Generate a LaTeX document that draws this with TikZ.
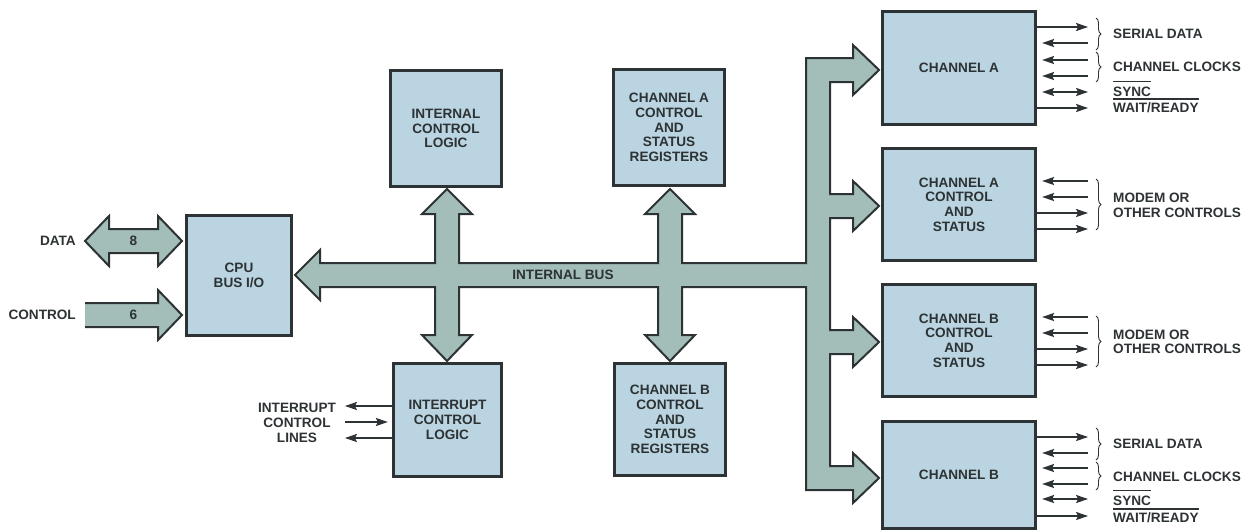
\documentclass[tikz,border=0pt]{standalone}
\usepackage{fontspec}
\setmainfont{Liberation Sans}
\usetikzlibrary{arrows.meta,decorations.pathreplacing}
\definecolor{boxfill}{RGB}{186,213,225}
\definecolor{busfill}{RGB}{163,190,185}
\definecolor{ink}{RGB}{45,50,52}
\begin{document}
\begin{tikzpicture}[x=1pt,y=-1pt,
  lbl/.style={font=\fontsize{13.6}{14.75}\selectfont\bfseries, text=ink, inner sep=0pt, align=center},
  blk/.style={lbl, draw=ink, fill=boxfill, line width=3.2pt},
  bus/.style={fill=busfill, draw=ink, line width=2pt, line join=miter},
  sig/.style={draw=ink, line width=1.8pt},
  brc/.style={draw=ink, line width=0.9pt, decorate, decoration={brace, amplitude=5pt}},
  ovl/.style={draw=ink, line width=1.3pt},
  >={Stealth[length=12pt,width=8pt,inset=2pt]}]
\useasboundingbox (0,0) rectangle (1248,531);

% ---- blocks ----
\node[blk, minimum width=105pt, minimum height=120pt] (cpu)  at (239,275.5) {CPU\\BUS I/O};
\node[blk, minimum width=111pt, minimum height=116pt] (icl)  at (446,128.5) {INTERNAL\\CONTROL\\LOGIC};
\node[blk, minimum width=111pt, minimum height=116pt] (areg) at (669,127.5) {CHANNEL A\\CONTROL\\AND\\STATUS\\REGISTERS};
\node[blk, minimum width=108pt, minimum height=113pt] (intr) at (447.5,420) {INTERRUPT\\CONTROL\\LOGIC};
\node[blk, minimum width=111pt, minimum height=112pt] (breg) at (670,419.5) {CHANNEL B\\CONTROL\\AND\\STATUS\\REGISTERS};
\node[blk, minimum width=153pt, minimum height=113pt] (chA)  at (959,68) {CHANNEL A};
\node[blk, minimum width=153pt, minimum height=112pt] (chAc) at (959,204.5) {CHANNEL A\\CONTROL\\AND\\STATUS};
\node[blk, minimum width=153pt, minimum height=112pt] (chBc) at (959,340.5) {CHANNEL B\\CONTROL\\AND\\STATUS};
\node[blk, minimum width=153pt, minimum height=107pt] (chB)  at (959,475) {CHANNEL B};

% ---- external CPU side: DATA (8) and CONTROL (6) ----
\draw[bus] (85,241) -- (109,216) -- (109,229) -- (158,229) -- (158,216) -- (182,241)
  -- (158,266) -- (158,253) -- (109,253) -- (109,266) -- cycle;
\fill[busfill] (85,303) -- (158,303) -- (158,290) -- (182,315) -- (158,340) -- (158,327) -- (85,327) -- cycle;
\draw[bus, fill=none] (85,303) -- (158,303) -- (158,290) -- (182,315) -- (158,340) -- (158,327) -- (85,327);
\node[lbl] (n8) at (133.5,241) {8};
\node[lbl] (n6) at (133.5,315) {6};
\node[lbl, anchor=east] (ldata) at (76,241) {DATA};
\node[lbl, anchor=east] (lctrl) at (76,315) {CONTROL};

% ---- internal bus with its branches ----
\draw[bus] (295,275) -- (320,250) -- (320,263) -- (435,263) -- (435,214) -- (422,214) -- (447,189)
  -- (472,214) -- (459,214) -- (459,263) -- (658,263) -- (658,214) -- (645,214) -- (670,189)
  -- (695,214) -- (682,214) -- (682,263) -- (806,263) -- (806,58) -- (853,58) -- (853,45)
  -- (879,70) -- (853,95) -- (853,82) -- (830,82) -- (830,194) -- (853,194) -- (853,181)
  -- (879,206) -- (853,231) -- (853,218) -- (830,218) -- (830,330) -- (853,330) -- (853,317)
  -- (879,342) -- (853,367) -- (853,354) -- (830,354) -- (830,466) -- (853,466) -- (853,453)
  -- (879,478) -- (853,503) -- (853,490) -- (806,490) -- (806,287) -- (682,287) -- (682,335)
  -- (695,335) -- (670,361) -- (645,335) -- (658,335) -- (658,287) -- (459,287) -- (459,335)
  -- (472,335) -- (447,361) -- (422,335) -- (435,335) -- (435,287) -- (320,287) -- (320,300) -- cycle;
\node[lbl] (ibus) at (563,275) {INTERNAL BUS};

% ---- interrupt control lines ----
\draw[sig, ->] (intr.west |- 0,406) -- ++(-47,0);
\draw[sig, ->, shorten >=4pt] (345,422) -- (intr.west |- 0,422);
\draw[sig, ->] (intr.west |- 0,438) -- ++(-47,0);
\node[lbl, font=\fontsize{13.6}{15}\selectfont\bfseries] (lint) at (297,423) {INTERRUPT\\CONTROL\\LINES};

% ---- channel A lines ----
\draw[sig, ->] (chA.east |- 0,27) -- ++(51,0);
\draw[sig, <-, shorten <=5pt] (chA.east |- 0,43) -- ++(51,0);
\draw[sig, <-, shorten <=5pt] (chA.east |- 0,60) -- ++(51,0);
\draw[sig, <-, shorten <=5pt] (chA.east |- 0,76) -- ++(51,0);
\draw[sig, <->, shorten <=5pt] (chA.east |- 0,92) -- ++(51,0);
\draw[sig, ->] (chA.east |- 0,108) -- ++(51,0);
\draw[brc] (1096,18) -- (1096,50);
\draw[brc] (1096,52) -- (1096,82);
\node[lbl, anchor=base west] (aser) at (1113,38) {SERIAL DATA};
\node[lbl, anchor=base west] (aclk) at (1113,71) {CHANNEL CLOCKS};
\node[lbl, anchor=base west] (async) at (1113,96) {SYNC};
\node[lbl, anchor=base west] (await) at (1113,112) {WAIT/READY};
\draw[ovl] ([yshift=4.5pt]async.north west) -- ([yshift=4.5pt]async.north east);
\draw[ovl] ([yshift=3pt]await.north west) -- ([yshift=3pt]await.north east);

% ---- channel A modem controls ----
\draw[sig, <-, shorten <=5pt] (chAc.east |- 0,181) -- ++(51,0);
\draw[sig, <-, shorten <=5pt] (chAc.east |- 0,197) -- ++(51,0);
\draw[sig, ->] (chAc.east |- 0,213) -- ++(51,0);
\draw[sig, ->] (chAc.east |- 0,229) -- ++(51,0);
\draw[brc] (1096,179) -- (1096,230);
\node[lbl, anchor=base west] (amod) at (1113,202) {MODEM OR};
\node[lbl, anchor=base west] (aoth) at (1113,217) {OTHER CONTROLS};

% ---- channel B modem controls ----
\draw[sig, <-, shorten <=5pt] (chBc.east |- 0,317) -- ++(51,0);
\draw[sig, <-, shorten <=5pt] (chBc.east |- 0,333) -- ++(51,0);
\draw[sig, ->] (chBc.east |- 0,349) -- ++(51,0);
\draw[sig, ->] (chBc.east |- 0,365) -- ++(51,0);
\draw[brc] (1096,316) -- (1096,367);
\node[lbl, anchor=base west] (bmod) at (1113,339) {MODEM OR};
\node[lbl, anchor=base west] (both) at (1113,353) {OTHER CONTROLS};

% ---- channel B lines ----
\draw[sig, ->] (chB.east |- 0,437) -- ++(51,0);
\draw[sig, <-, shorten <=5pt] (chB.east |- 0,453) -- ++(51,0);
\draw[sig, <-, shorten <=5pt] (chB.east |- 0,468) -- ++(51,0);
\draw[sig, <-, shorten <=5pt] (chB.east |- 0,484) -- ++(51,0);
\draw[sig, <->, shorten <=5pt] (chB.east |- 0,499) -- ++(51,0);
\draw[sig, ->] (chB.east |- 0,516) -- ++(51,0);
\draw[brc] (1096,428) -- (1096,460);
\draw[brc] (1096,462) -- (1096,490);
\node[lbl, anchor=base west] (bser) at (1113,448) {SERIAL DATA};
\node[lbl, anchor=base west] (bclk) at (1113,481) {CHANNEL CLOCKS};
\node[lbl, anchor=base west] (bsync) at (1113,505) {SYNC};
\node[lbl, anchor=base west] (bwait) at (1113,522) {WAIT/READY};
\draw[ovl] ([yshift=4.5pt]bsync.north west) -- ([yshift=4.5pt]bsync.north east);
\draw[ovl] ([yshift=3pt]bwait.north west) -- ([yshift=3pt]bwait.north east);
\end{tikzpicture}
\end{document}
